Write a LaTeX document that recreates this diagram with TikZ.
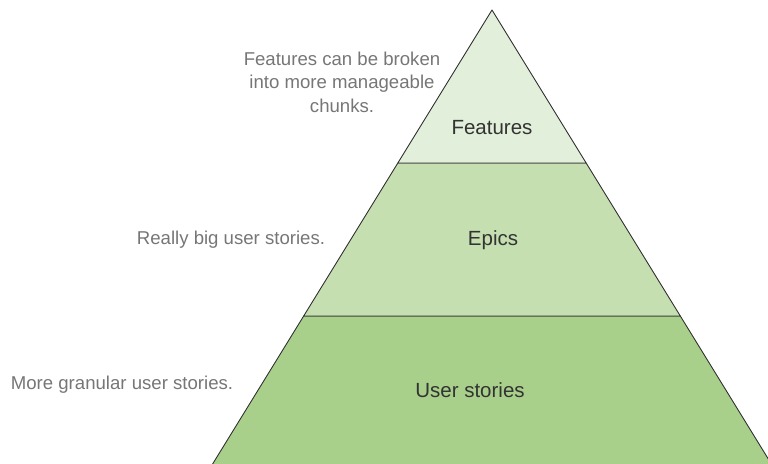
\documentclass[tikz,border=0pt]{standalone}
\usepackage{fontspec}
\setmainfont{Liberation Sans}
\usetikzlibrary{calc}
\definecolor{featGreen}{HTML}{E2EFDA}
\definecolor{epicGreen}{HTML}{C6DFB1}
\definecolor{storyGreen}{HTML}{A8D08B}
\definecolor{edgeGray}{HTML}{333333}
\definecolor{noteGray}{HTML}{767676}

\begin{document}
\begin{tikzpicture}[x=1pt, y=-1pt,
  band/.style={draw=edgeGray, line width=0.9pt, line join=round},
  level/.style={text=edgeGray, font=\fontsize{20.5}{24}\selectfont, inner sep=0pt},
  note/.style={text=noteGray, font=\fontsize{18.6}{23.5}\selectfont, align=center, inner sep=0pt},
]
\useasboundingbox (0,0) rectangle (768,463);

% Corners of the pyramid
\coordinate (apex) at (492,10);
\coordinate (bl) at (212,465);
\coordinate (br) at (772,465);
\coordinate (l1) at ($(apex)!0.3363!(bl)$);
\coordinate (r1) at ($(apex)!0.3363!(br)$);
\coordinate (l2) at ($(apex)!0.6725!(bl)$);
\coordinate (r2) at ($(apex)!0.6725!(br)$);

% Bands
\filldraw[band, fill=storyGreen] (l2) -- (r2) -- (br) -- (bl) -- cycle;
\filldraw[band, fill=epicGreen] (l1) -- (r1) -- (r2) -- (l2) -- cycle;
\filldraw[band, fill=featGreen] (apex) -- (r1) -- (l1) -- cycle;

% Level names
\node[level] (features) at (492,128) {Features};
\node[level] (epics) at (493,240) {Epics};
\node[level] (stories) at (470,390) {User stories};

% Notes
\node[note] (featnote) at (342,82) {Features can be broken\\into more manageable\\chunks.};
\node[note] (epicnote) at (231,240) {Really big user stories.};
\node[note] (storynote) at (122,385) {More granular user stories.};

\end{tikzpicture}
\end{document}
